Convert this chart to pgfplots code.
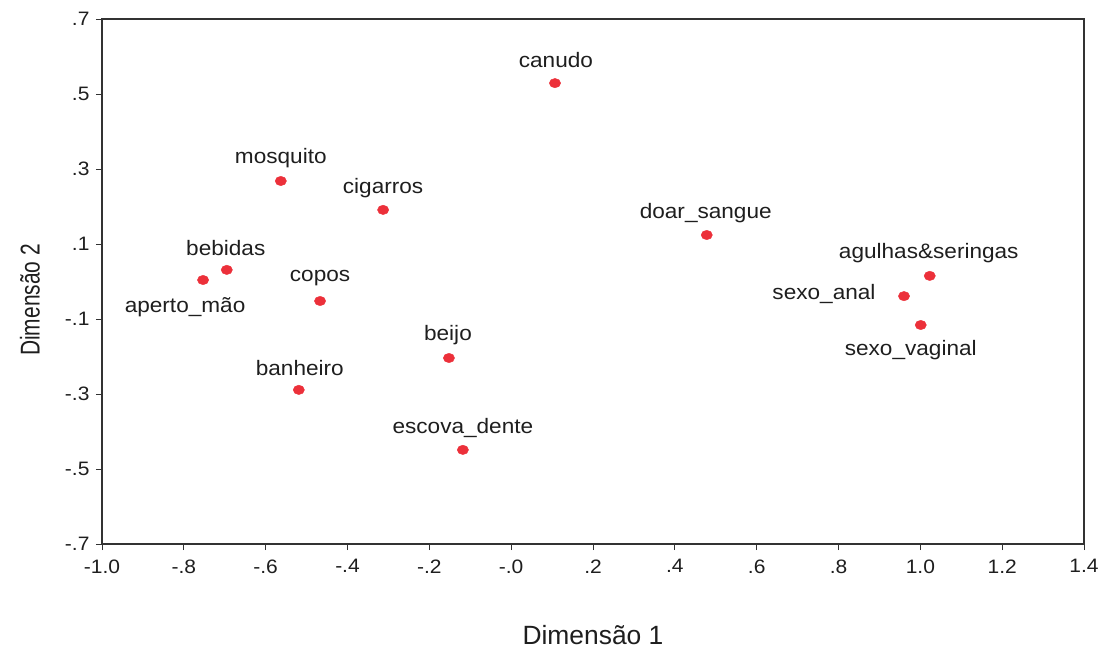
\documentclass[border=0pt]{standalone}
\usepackage{pgfplots}
\pgfplotsset{compat=1.18}
\usepackage{fontspec}
\setmainfont{Liberation Sans}[FakeStretch=1.08]
\newfontfamily\plainfont{Liberation Sans}
\definecolor{pt}{RGB}{236,48,58}
\definecolor{ax}{RGB}{50,50,50}
\definecolor{tx}{RGB}{30,30,30}
\begin{document}
\begin{tikzpicture}
\begin{axis}[
  scale only axis,
  width=982bp, height=525bp,
  xmin=-1.0, xmax=1.4, ymin=-0.7, ymax=0.7,
  xtick={-1.0,-0.8,-0.6,-0.4,-0.2,0,0.2,0.4,0.6,0.8,1.0,1.2,1.4},
  xticklabels={-1.0,-.8,-.6,-.4,-.2,-.0,.2,.4,.6,.8,1.0,1.2,1.4},
  ytick={-0.7,-0.5,-0.3,-0.1,0.1,0.3,0.5,0.7},
  yticklabels={-.7,-.5,-.3,-.1,.1,.3,.5,.7},
  tick align=outside, xtick pos=left, ytick pos=left,
  major tick length=6bp,
  axis line style={ax, line width=1.1pt},
  every tick/.style={ax, line width=0.8pt},
  tick label style={font=\fontsize{19.5}{23}\selectfont, text=tx},
  xticklabel style={yshift=-6bp},
  yticklabel style={xshift=-3bp},
  xlabel={\plainfont\fontsize{26.5}{30}\selectfont Dimensão 1},
  ylabel={\plainfont\fontsize{21}{25}\selectfont\scalebox{1}[1.3]{Dimensão 2}},
  label style={text=tx},
  x label style={at={(axis description cs:0.5,-0.1733)}, anchor=center},
  y label style={at={(axis description cs:-0.0733,0.4648)}, anchor=center},
  clip=false,
]
\addplot[only marks, mark=*, mark size=4.7bp, mark options={fill=pt, draw=pt, xscale=1.2}] coordinates {
  (0.107,0.529) (-0.563,0.268) (-0.313,0.191) (0.478,0.124) (-0.695,0.031)
  (-0.753,0.004) (-0.467,-0.052) (1.023,0.015) (0.960,-0.039) (1.001,-0.116)
  (-0.152,-0.204) (-0.519,-0.289) (-0.118,-0.449)
};
\coordinate (sw) at (rel axis cs:0,0);
\coordinate (ne) at (rel axis cs:1,1);
\begin{scope}[every node/.style={font=\fontsize{21}{25}\selectfont, text=tx, anchor=center}]
\node at ([shift={(1bp,23bp)}]axis cs:0.107,0.529) {canudo};
\node at ([shift={(0bp,23bp)}]axis cs:-0.563,0.268) {mosquito};
\node at ([shift={(0bp,22bp)}]axis cs:-0.313,0.191) {cigarros};
\node at ([shift={(-1bp,22bp)}]axis cs:0.478,0.124) {doar\_sangue};
\node at ([shift={(-1bp,22bp)}]axis cs:-0.695,0.031) {bebidas};
\node at ([shift={(-18bp,-27bp)}]axis cs:-0.753,0.004) {aperto\_mão};
\node at ([shift={(0bp,23bp)}]axis cs:-0.467,-0.052) {copos};
\node at ([shift={(-1bp,23bp)}]axis cs:1.023,0.015) {agulhas\&seringas};
\node at ([shift={(-80bp,2bp)}]axis cs:0.960,-0.039) {sexo\_anal};
\node at ([shift={(-10bp,-25bp)}]axis cs:1.001,-0.116) {sexo\_vaginal};
\node at ([shift={(-1bp,23bp)}]axis cs:-0.152,-0.204) {beijo};
\node at ([shift={(1bp,22bp)}]axis cs:-0.519,-0.289) {banheiro};
\node at ([shift={(0bp,22bp)}]axis cs:-0.118,-0.449) {escova\_dente};
\end{scope}
\end{axis}
\pgfresetboundingbox
\path[use as bounding box] ([shift={(-102bp,-106bp)}]sw) rectangle ([shift={(22bp,19bp)}]ne);
\end{tikzpicture}
\end{document}
